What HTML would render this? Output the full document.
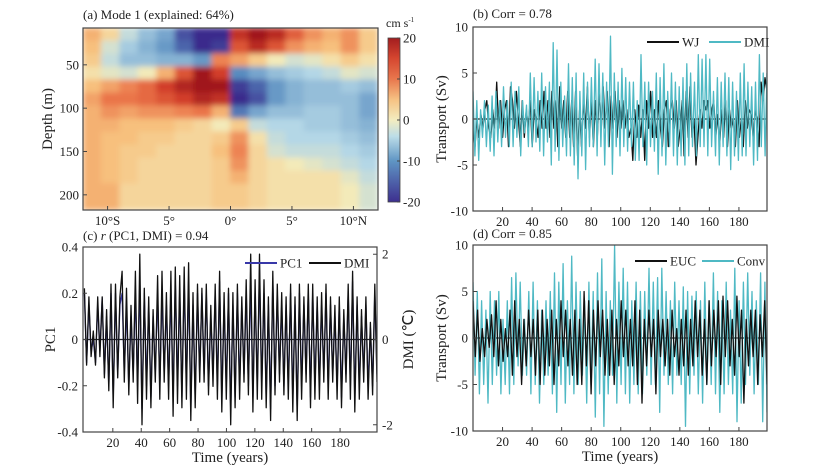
<!DOCTYPE html>
<html><head><meta charset="utf-8">
<style>
html,body{margin:0;padding:0;background:#fff;}
svg{display:block;font-family:"Liberation Serif",serif;}
</style></head>
<body>
<svg id="fig" width="819" height="470" viewBox="0 0 819 470" xmlns="http://www.w3.org/2000/svg">
<defs>
<filter id="smooth" x="0" y="0" width="1" height="1"><feGaussianBlur stdDeviation="3" edgeMode="duplicate"/></filter>
<clipPath id="clipA"><rect x="83" y="28" width="295" height="182"/></clipPath>
<clipPath id="clipB"><rect x="473" y="27" width="294" height="184"/></clipPath>
<clipPath id="clipC"><rect x="83" y="247" width="294" height="185"/></clipPath>
<clipPath id="clipD"><rect x="473" y="245" width="294" height="186"/></clipPath>
<linearGradient id="cbar" x1="0" y1="1" x2="0" y2="0">
<stop offset="0" stop-color="#3d2f8f"/><stop offset="0.25" stop-color="#5f95c4"/><stop offset="0.4" stop-color="#bcdde8"/>
<stop offset="0.5" stop-color="#f3ecc0"/><stop offset="0.62" stop-color="#f6c485"/><stop offset="0.75" stop-color="#e8774d"/>
<stop offset="0.88" stop-color="#d4452f"/><stop offset="1" stop-color="#a31d1f"/></linearGradient>
</defs>
<g id="pa"></g>
<g id="pb"></g>
<g id="pc"></g>
<g id="pd"></g>
</svg>
<script>
// ---------- Panel a data ----------
const latCenters=[-11.25,-9.75,-8.25,-6.75,-5.25,-3.75,-2.25,-0.75,0.75,2.25,3.75,5.25,6.75,8.25,9.75,11.25];
const depthCenters=[15,30,45,60,75,90,105,120,135,150,165,180,195,210];
const eofValues=[
[5,2,-3,-6,-8,-16,-22,-22,16,20,17,11,7,5,7,3],
[4,-2,-5,-7,-9,-14,-22,-18,12,17,12,7,5,4,7,3],
[3,-3,-6,-6,-7,-7,-9,8,6,3,0,-2,-1,1,3,1],
[1,-1,-2,0,5,12,20,14,-10,-8,-6,-5,-4,-3,-1,-2],
[4,6,8,10,14,18,22,20,-18,-14,-9,-7,-6,-6,-5,-6],
[6,9,9,10,12,14,18,16,-22,-16,-9,-7,-6,-6,-6,-8],
[5,7,6,7,7,8,9,5,-12,-8,-6,-6,-5,-5,-6,-8],
[5,5,4,4,4,3,2,0,3,-3,-4,-4,-5,-5,-6,-7],
[5,4,4,3,3,2,2,3,7,1,-3,-4,-4,-4,-5,-6],
[5,4,3,3,2,2,2,4,8,2,-2,-3,-3,-3,-4,-5],
[5,4,3,2,2,2,2,3,7,2,1,0,-1,-2,-3,-4],
[5,4,3,2,2,2,2,3,5,2,1,1,1,1,-1,-3],
[5,5,2,2,2,2,2,3,3,2,1,1,1,1,0,-2],
[5,5,2,2,2,2,2,3,3,2,1,1,1,1,0,-2]];
const latTicks=[-10,-5,0,5,10];
const latTickLabels=["10°S","5°","0°","5°","10°N"];
const depthTicks=[50,100,150,200];
const cbarTicks=[20,10,0,-10,-20];
// ---------- Panel b data ----------
const bDMI=[3,-4,2,-4.5,1,-2,2,-3,1.5,-3.5,2.5,-4,3,-2.5,2,-3,3.5,-2,2,-3,4,-3,3,-2,3.5,-4,2,-1.5,1.5,-3,5,-3,4.5,-2.5,3,-3.5,5,-4,3.5,-2.5,4,-5,8.3,-3.5,7.5,-4.5,4,-3,2.5,-4,6,-4,4.5,-5,5,-6.5,3,-4,5,-5.5,4,-3,4.5,-3,6.5,-4,6,-3,5,-5,4,-3,9,-6,5,-3,4,-4,5.5,-3,4.5,-3.5,4,-3,4,-4.5,2,-4.5,7,-3,4,-5,4,-3,3,-3.5,5,-6,4.5,-4,6,-5,3,-3,5,-4,4,-5,3.5,-4,4.5,-5,6,-4,5,-3,4,-4,7,-3,6.5,-3,7,-4,6.5,-3,3,-4,4.5,-5,4,-3,5,-4,4.5,-5.5,4,-4,3,-4.5,5,-4,6,-4,4,-3,3.5,-5,4,-4.5,7,-3,5,-4,5];
const bWJ=[-1,-3,0,-2,0.5,-1,1,2,-1,-2,1,-1,4,-1,2,-2,1,2,-3,3.5,2,-1,3,0,-3,2,-2,1,-1,2,-3,1,0,-2,2,-1,3,-1,2,-2,3,-1,2,-3,3.5,-1,2,-2,3,-2,2,-3,3,-4,1,-3,2,-1,3.5,-2,2,-3,2,-2,3,-1,3.5,-1,3,-3,2.5,-1,3,-2,2,-1,2,-1,1,-2,-1,-4.5,1,-2,1.5,-2,1,-4.5,2,-1,3,-2,1,-2,2,-1,-3,1,2,-3,1,2,-1,2,-3,-1,2,-4,3,-2,3.5,-2,0,-5,-2,1,-1,2,1,2,-1,1,2,-2,0.5,-3,1,-2,2,-3,1,-1,0,-3,2,-2,0,-3,2,-1,1,0.5,-2,1,0,-3,4,2,4.5,3];
// ---------- Panel c data ----------
const cPC1=[0.2,-0.1,0.15,-0.05,0.0,-0.1,0.15,-0.05,0.18,-0.15,0.1,-0.2,0.2,-0.25,0.2,-0.15,0.15,0.2,-0.15,0.15,-0.2,0.1,-0.15,0.2,-0.2,0.25,-0.3,0.2,-0.2,0.15,-0.25,0.1,-0.15,0.2,-0.2,0.2,-0.15,0.15,-0.2,0.2,-0.25,0.25,-0.2,0.2,-0.25,0.25,-0.2,0.25,-0.3,0.15,-0.25,0.2,-0.15,0.2,-0.15,0.2,-0.2,0.1,-0.15,0.2,-0.2,0.25,-0.25,0.15,-0.2,0.2,-0.3,0.15,-0.25,0.2,-0.2,0.15,-0.15,0.2,-0.2,0.25,-0.25,0.2,-0.2,0.3,-0.2,0.2,-0.25,0.15,-0.3,0.25,-0.2,0.2,-0.15,0.15,-0.2,0.15,-0.2,0.2,-0.25,0.15,-0.3,0.2,-0.2,0.15,-0.15,0.2,-0.25,0.2,-0.2,0.15,-0.2,0.15,-0.15,0.2,-0.2,0.15,-0.15,0.1,-0.2,0.15,-0.25,0.1,-0.15,0.2,-0.2,0.25,-0.25,0.15,-0.2,0.1,-0.15,0.15,-0.2,0.05,-0.2,0.2,-0.15];
const cDMI=[1.2,-0.6,1.0,-0.4,0.2,-0.6,1.0,-0.4,1.0,-0.9,0.7,-1.2,1.3,-1.6,1.3,-0.9,1.0,1.6,-1.0,1.2,-1.3,0.8,-1.0,1.6,-1.5,2.0,-2.0,1.2,-1.4,1.0,-1.6,0.7,-1.0,1.5,-1.4,1.6,-1.0,1.1,-1.4,1.6,-1.8,1.7,-1.5,1.5,-1.6,1.7,-1.4,1.8,-1.9,1.1,-1.6,1.3,-1.0,1.2,-1.0,1.3,-1.3,0.8,-1.1,1.3,-1.4,1.6,-1.7,1.1,-1.4,1.2,-2.0,1.1,-1.6,1.3,-1.4,1.0,-1.0,1.4,-1.3,2.0,-1.7,1.4,-1.4,2.0,-1.4,1.4,-1.6,1.0,-1.9,1.6,-1.3,1.3,-1.0,1.1,-1.3,1.0,-1.4,1.3,-1.7,1.0,-1.9,1.3,-1.4,1.0,-1.0,1.3,-1.6,1.3,-1.4,1.0,-1.4,1.1,-1.0,1.3,-1.4,1.0,-1.0,0.8,-1.4,1.0,-1.6,0.7,-1.0,1.3,-1.4,1.6,-1.7,1.0,-1.4,0.7,-1.0,1.0,-1.4,0.4,-1.3,1.3,-1.0];
// ---------- Panel d data ----------
const dConv=[6,-4,5,-6,4,-5,3,-7,5,-5,4,-4,5,-6,2,-5,4,-6,6.5,-5,7,-3,6,-4,2,-4,5,-6,6,-5,4,-7,3,-5,4,-4,5,-6,7,-8,6,-5,8,-7,4,-5,8.8,-6,6,-5,5,-4,4,-7,6,-5,5,-8.5,7,-6,8.5,-9.5,5,-6,4,-4,10,-7,6,-5,7.5,-6,6,-7,4,-5,6,-6,5,-6,5,-4,7.5,-5,6,-5,6.5,-8,7.5,-4,5,-5,4,-6,6,-4,4,-5,5.5,-9.5,5,-6,4.5,-4,5,-6,4,-7,6,-5,4,-5,7,-6,5,-8,4,-6,6,-5,3,-6,7.5,-9,4,-7,6,-5,7,-4,5,-6,4,-5,7,-9,6,-8];
const dEUC=[4,-2,3,-2.5,1,-2,2,-1,2.5,-2,4,-3,2,-2.5,1,-2,3,-4,4,-2,2,-5,2,-3,3,-2,2,-4,3,-5,3,-4,2,-3,3,-5,2,-3,4,-2,3,-3,2,-4,3,-5,2,-5,5,-3,4,-6,3,-3,4,-2,3,-4,2,-4,3,-5,2,-3,4,-2,3,-3,2,-3,4,-5,3,-7,2,-3,3,-2,2,-6,3,-2,2,-3,2,-4,3,-2,1,-4,2,-3,3,-4,2,-3,4,-2,3,-4,2,-5,4,-3,3,-2,4,-5,4.5,-2,4,-3,2,-4,4.5,-2,3,-7,2,-3,3,-2,3,-5,2.5,-2,4,-5];
const timeTicks=[20,40,60,80,100,120,140,160,180];
const transportTicks=[10,5,0,-5,-10];
const pcTicks=[0.4,0.2,0,-0.2,-0.4];
const pcTickLabels=["0.4","0.2","0","-0.2","-0.4"];
const dmiTicks=[2,0,-2];

const NS='http://www.w3.org/2000/svg';
function mk(parent,tag,attrs,text){const e=document.createElementNS(NS,tag);for(const k in attrs)e.setAttribute(k,attrs[k]);if(text!==undefined)e.textContent=text;parent.appendChild(e);return e;}
function lin(d0,d1,r0,r1){return v=>r0+(v-d0)/(d1-d0)*(r1-r0);}

const cmStops=[[-20,[58,42,140]],[-10,[88,140,192]],[-4,[180,215,230]],[0,[243,234,185]],[4,[247,192,125]],[9,[234,116,72]],[14,[210,62,42]],[20,[160,25,30]]];
function cmap(v){v=Math.max(-20,Math.min(20,v));for(let i=0;i<cmStops.length-1;i++){const a=cmStops[i],b=cmStops[i+1];if(v<=b[0]){const t=(v-a[0])/(b[0]-a[0]);const c=a[1].map((x,j)=>Math.round(x+(b[1][j]-x)*t));return `rgb(${c})`;}}return 'rgb(160,25,30)';}

// ---------- Panel a ----------
(function(){
const g=document.getElementById('pa');
const X=lin(-12,12,83,378), Y=lin(7.5,217.5,28,210);
const t=mk(g,'text',{x:83,y:19,'font-size':13,fill:'#222'},'(a) Mode 1 (explained: 64%)');


const cg=mk(g,'g',{'clip-path':'url(#clipA)'});
const hg=mk(cg,'g',{filter:'url(#smooth)'});


const dLat=latCenters[1]-latCenters[0], dDep=depthCenters[1]-depthCenters[0];
depthCenters.forEach((d,i)=>{latCenters.forEach((l,j)=>{
 const r=mk(hg,'rect',{x:X(l-dLat/2)-0.5,y:Y(d-dDep/2)-0.5,width:X(dLat)-X(0)+1,height:Y(dDep)-Y(0)+1,fill:cmap(eofValues[i][j])});
 
 
});});
const fr=mk(g,'rect',{x:83,y:28,width:295,height:182,fill:'none',stroke:'#444','stroke-width':1.2});


latTicks.forEach((v,i)=>{
 mk(g,'line',{x1:X(v),x2:X(v),y1:210,y2:206,stroke:'#444'});
 const tl=mk(g,'text',{x:X(v),y:225,'font-size':13,'text-anchor':'middle',fill:'#222'},latTickLabels[i]);
 
 
});
depthTicks.forEach(v=>{
 mk(g,'line',{x1:83,x2:87,y1:Y(v),y2:Y(v),stroke:'#444'});
 const tl=mk(g,'text',{x:79,y:Y(v)+4.5,'font-size':13,'text-anchor':'end',fill:'#222'},v);
 
 
});
const yt=mk(g,'text',{x:0,y:0,'font-size':15,'text-anchor':'middle',fill:'#222',transform:'translate(52,119) rotate(-90)'},'Depth (m)');


const cb=mk(g,'rect',{x:388,y:38,width:12,height:164,fill:'url(#cbar)',stroke:'#444','stroke-width':0.8});


const CY=lin(-20,20,202,38);
cbarTicks.forEach(v=>{
 mk(g,'line',{x1:397,x2:400,y1:CY(v),y2:CY(v),stroke:'#444'});
 const tl=mk(g,'text',{x:403,y:CY(v)+4.5,'font-size':13,fill:'#222'},v);
 
 
});
const un=mk(g,'text',{x:386,y:27,'font-size':12,fill:'#222'},'cm s');


mk(un,'tspan',{'font-size':7,dy:-5},'-1');
})();

function tsPanel(id,box,title,titleXY,series,yTicks,yLabels,yDom,clip,legend,yTitle,rightAxis){
const g=document.getElementById(id);
const X=lin(box.xd0,box.xd1,box.x0,box.x1), Y=lin(yDom[0],yDom[1],box.y1,box.y0);
const t=mk(g,'text',{x:titleXY[0],y:titleXY[1],'font-size':13,fill:'#222'});
t.innerHTML=title;


const cg=mk(g,'g',{'clip-path':'url('+clip+')'});
mk(cg,'line',{x1:box.x0,x2:box.x1,y1:Y(0),y2:Y(0),stroke:'#222','stroke-width':1.3});
series.forEach(s=>{
 const n=s.data.length, sy=s.scale||Y;
 const pts=s.data.map((v,i)=>X(box.xd0s+i*(box.xd1s-box.xd0s)/(n-1)).toFixed(1)+','+sy(v).toFixed(1)).join(' ');
 const p=mk(cg,'polyline',{points:pts,fill:'none',stroke:s.color,'stroke-width':s.w||1.3,'stroke-linejoin':'round'});
 
 
});
const fr=mk(g,'rect',{x:box.x0,y:box.y0,width:box.x1-box.x0,height:box.y1-box.y0,fill:'none',stroke:'#444','stroke-width':1.2});


timeTicks.forEach(v=>{
 mk(g,'line',{x1:X(v),x2:X(v),y1:box.y1,y2:box.y1-4,stroke:'#444'});
 const tl=mk(g,'text',{x:X(v),y:box.y1+15,'font-size':13,'text-anchor':'middle',fill:'#222'},v);
 
 
});
yTicks.forEach((v,i)=>{
 mk(g,'line',{x1:box.x0,x2:box.x0+4,y1:Y(v),y2:Y(v),stroke:'#444'});
 const tl=mk(g,'text',{x:box.x0-5,y:Y(v)+4.5,'font-size':13,'text-anchor':'end',fill:'#222'},yLabels[i]);
 
 
});
const yt=mk(g,'text',{x:0,y:0,'font-size':15,'text-anchor':'middle',fill:'#222',transform:`translate(${yTitle[1]},${(box.y0+box.y1)/2}) rotate(-90)`},yTitle[0]);


if(box.xlabel){
 const xt=mk(g,'text',{x:(box.x0+box.x1)/2,y:box.y1+30,'font-size':15,'text-anchor':'middle',fill:'#222'},'Time (years)');
 
 
}
if(rightAxis){
 rightAxis.ticks.forEach(v=>{
  mk(g,'line',{x1:box.x1,x2:box.x1-4,y1:rightAxis.scale(v),y2:rightAxis.scale(v),stroke:'#444'});
  const tl=mk(g,'text',{x:box.x1+5,y:rightAxis.scale(v)+4.5,'font-size':13,fill:'#222'},v);
  
  
 });
 const rt=mk(g,'text',{x:0,y:0,'font-size':15,'text-anchor':'middle',fill:'#222',transform:`translate(${box.x1+36},${(box.y0+box.y1)/2}) rotate(-90)`},'DMI (℃)');
 
 
}
const lg=mk(g,'g',{});


legend.forEach(l=>{
 mk(lg,'line',{x1:l.x,x2:l.x+32,y1:l.y,y2:l.y,stroke:l.color,'stroke-width':2});
 const lt=mk(lg,'text',{x:l.x+35,y:l.y+4.5,'font-size':13,fill:'#222'},l.label);
 
 
});
}
const CYAN='#4fb9c4';
tsPanel('pb',{x0:473,x1:767,y0:27,y1:211,xd0:0,xd1:199,xd0s:0,xd1s:199},'(b) Corr = 0.78',[473,18],
 [{data:bWJ,color:'#111',name:'wj-line'},{data:bDMI,color:CYAN,name:'dmi-line-b'}],
 transportTicks,transportTicks,[-10,10],'#clipB',
 [{x:647,y:42,color:'#111',label:'WJ'},{x:709,y:42,color:CYAN,label:'DMI'}],['Transport (Sv)',446]);
const dmiY=lin(-2.17,2.17,432,247);
tsPanel('pc',{x0:83,x1:377,y0:247,y1:432,xd0:-1,xd1:206,xd0s:0,xd1s:206,xlabel:true},'(c) <tspan font-style="italic">r</tspan> (PC1, DMI) = 0.94',[83,240],
 [{data:cPC1,color:'#3838a8',name:'pc1-line'},{data:cDMI,color:'#111',name:'dmi-line-c',scale:dmiY}],
 pcTicks,pcTickLabels,[-0.4,0.4],'#clipC',
 [{x:245,y:263,color:'#3838a8',label:'PC1'},{x:309,y:263,color:'#111',label:'DMI'}],['PC1',55],
 {ticks:dmiTicks,scale:dmiY});
tsPanel('pd',{x0:473,x1:767,y0:245,y1:431,xd0:0,xd1:199,xd0s:0,xd1s:199,xlabel:true},'(d) Corr = 0.85',[473,238],
 [{data:dConv,color:CYAN,name:'conv-line'},{data:dEUC,color:'#111',name:'euc-line'}],
 transportTicks,transportTicks,[-10,10],'#clipD',
 [{x:635,y:261,color:'#111',label:'EUC'},{x:702,y:261,color:CYAN,label:'Conv'}],['Transport (Sv)',446]);
</script>
</body></html>
